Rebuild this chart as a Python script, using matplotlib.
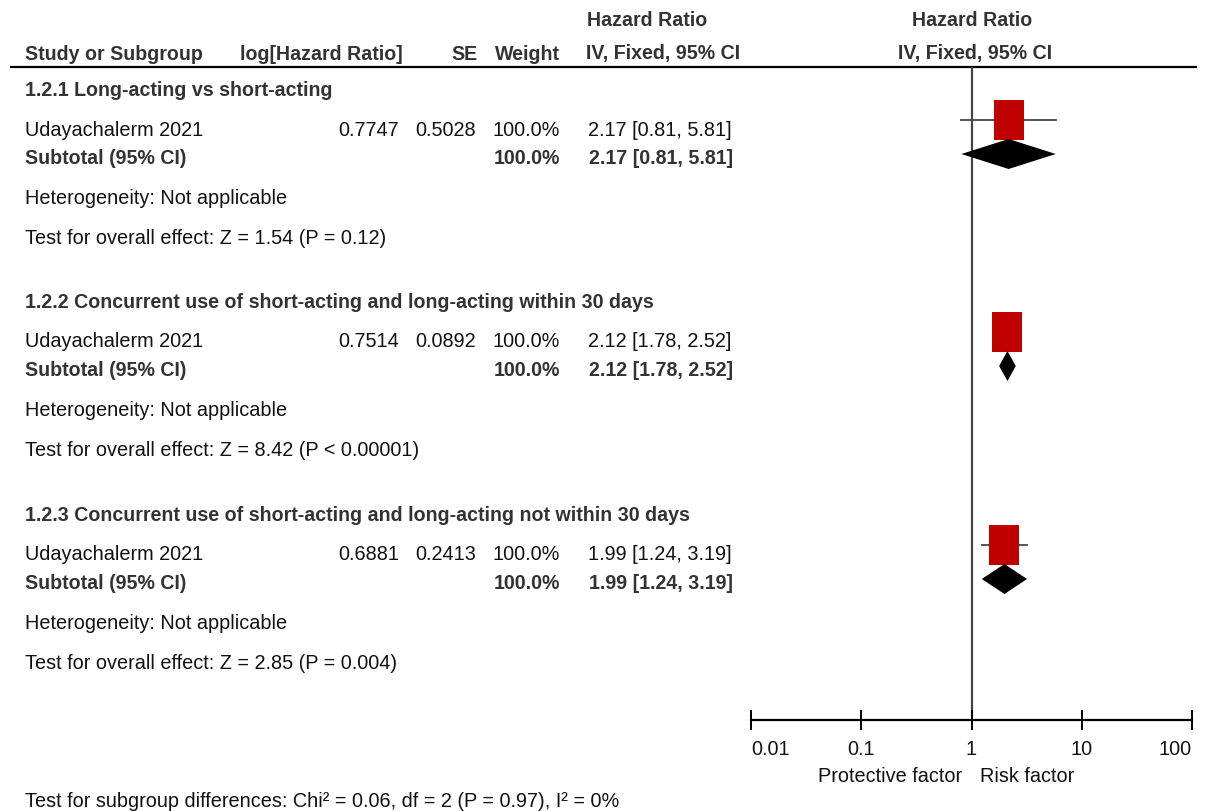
import matplotlib
matplotlib.use("Agg")
import matplotlib.pyplot as plt
from matplotlib.patches import Rectangle, Polygon
import numpy as np

plt.rcParams['font.family'] = ['Liberation Sans', 'DejaVu Sans']

# ---------------- data ----------------
subgroups = ["1.2.1 Long-acting vs short-acting",
             "1.2.2 Concurrent use of short-acting and long-acting within 30 days",
             "1.2.3 Concurrent use of short-acting and long-acting not within 30 days"]
studies = ["Udayachalerm 2021", "Udayachalerm 2021", "Udayachalerm 2021"]
log_hr = [0.7747, 0.7514, 0.6881]
se = [0.5028, 0.0892, 0.2413]
weights = [100.0, 100.0, 100.0]
hr = [2.17, 2.12, 1.99]
ci_lo = [0.81, 1.78, 1.24]
ci_hi = [5.81, 2.52, 3.19]
overall_effect = ["Z = 1.54 (P = 0.12)", "Z = 8.42 (P < 0.00001)", "Z = 2.85 (P = 0.004)"]
heterogeneity = ["Not applicable", "Not applicable", "Not applicable"]
subgroup_diff = "Test for subgroup differences: Chi\u00b2 = 0.06, df = 2 (P = 0.97), I\u00b2 = 0%"
tick_values = [0.01, 0.1, 1, 10, 100]
tick_labels = ["0.01", "0.1", "1", "10", "100"]
left_label = "Protective factor"
right_label = "Risk factor"

# ---------------- layout ----------------
W, H = 1213, 812
FS = 14.3
FS_B = 14.1
C_REG = "#111111"
C_BOLD = "#333333"
group_top = [89, 301, 514]
off_study, off_sub, off_het, off_test = 39, 68, 108, 148

fig = plt.figure(figsize=(W / 100, H / 100), dpi=100)
tx = fig.add_axes([0, 0, 1, 1])
tx.set_xlim(0, W)
tx.set_ylim(H, 0)
tx.axis("off")

def t(x, y, s, bold=False, ha="left"):
    tx.text(x, y, s, fontsize=FS_B if bold else FS, ha=ha, va="center_baseline",
            fontweight="bold" if bold else "normal",
            color=C_BOLD if bold else C_REG)

# headers
t(647, 18, "Hazard Ratio", bold=True, ha="center")
t(972, 18, "Hazard Ratio", bold=True, ha="center")
t(25, 52, "Study or Subgroup", bold=True)
t(403, 52, "log[Hazard Ratio]", bold=True, ha="right")
t(478, 52, "SE", bold=True, ha="right")
t(560, 52, "Weight", bold=True, ha="right")
t(663, 52, "IV, Fixed, 95% CI", bold=True, ha="center")
t(975, 52, "IV, Fixed, 95% CI", bold=True, ha="center")
tx.plot([10, 1197], [67.5, 67.5], color="black", lw=1.6, solid_capstyle="butt")

for i, g in enumerate(subgroups):
    y0 = group_top[i]
    t(25, y0, g, bold=True)
    ys = y0 + off_study
    t(25, ys, studies[i])
    t(399, ys, f"{log_hr[i]:.4f}", ha="right")
    t(476, ys, f"{se[i]:.4f}", ha="right")
    t(560, ys, f"{weights[i]:.1f}%", ha="right")
    t(660, ys, f"{hr[i]:.2f} [{ci_lo[i]:.2f}, {ci_hi[i]:.2f}]", ha="center")
    yb = y0 + off_sub
    t(25, yb, "Subtotal (95% CI)", bold=True)
    t(560, yb, f"{weights[i]:.1f}%", bold=True, ha="right")
    t(661, yb, f"{hr[i]:.2f} [{ci_lo[i]:.2f}, {ci_hi[i]:.2f}]", bold=True, ha="center")
    t(25, y0 + off_het, "Heterogeneity: " + heterogeneity[i])
    t(25, y0 + off_test, "Test for overall effect: " + overall_effect[i])

t(962, 775, left_label, ha="right")
t(980, 775, right_label, ha="left")
t(25, 800, subgroup_diff)

# ---------------- forest axes ----------------
x_left, x_right = 751, 1192
y_top, y_bot = 68, 721
ax = fig.add_axes([x_left / W, 1 - y_bot / H, (x_right - x_left) / W, (y_bot - y_top) / H])
ax.patch.set_alpha(0)
ax.set_xscale("log")
ax.set_xlim(tick_values[0], tick_values[-1])
ax.set_ylim(y_bot, y_top)
for s in ["top", "left", "right"]:
    ax.spines[s].set_visible(False)
ax.spines["bottom"].set_linewidth(1.6)
ax.spines["bottom"].set_color("black")
ax.set_yticks([])
ax.set_xticks(tick_values)
ax.set_xticklabels(tick_labels)
ax.xaxis.set_minor_locator(matplotlib.ticker.NullLocator())
ax.tick_params(axis="x", direction="inout", length=14, width=1.4, pad=6.5,
               labelsize=FS, labelcolor=C_REG, color="black")
lbls = ax.get_xticklabels()
lbls[0].set_ha("left")
lbls[-1].set_ha("right")

ax.axvline(1, color="#444444", lw=1.6, zorder=1)

decade_px = (x_right - x_left) / np.log10(tick_values[-1] / tick_values[0])
box_w = 30 / decade_px  # in decades
box_h = 40
dia_h = 15
for i in range(len(subgroups)):
    y0 = group_top[i]
    yl = y0 + off_study - 7
    ax.plot([ci_lo[i], ci_hi[i]], [yl, yl], color="#444444", lw=1.3, zorder=2)
    x0 = hr[i] * 10 ** (-box_w / 2)
    x1 = hr[i] * 10 ** (box_w / 2)
    ax.add_patch(Rectangle((x0, yl - box_h / 2), x1 - x0, box_h,
                           facecolor="#C00000", edgecolor="none", zorder=3))
    yd = y0 + off_sub - 2
    ax.add_patch(Polygon([(ci_lo[i], yd), (hr[i], yd - dia_h), (ci_hi[i], yd), (hr[i], yd + dia_h)],
                         closed=True, facecolor="black", edgecolor="none", zorder=3))

fig.savefig("out.png", dpi=100)
